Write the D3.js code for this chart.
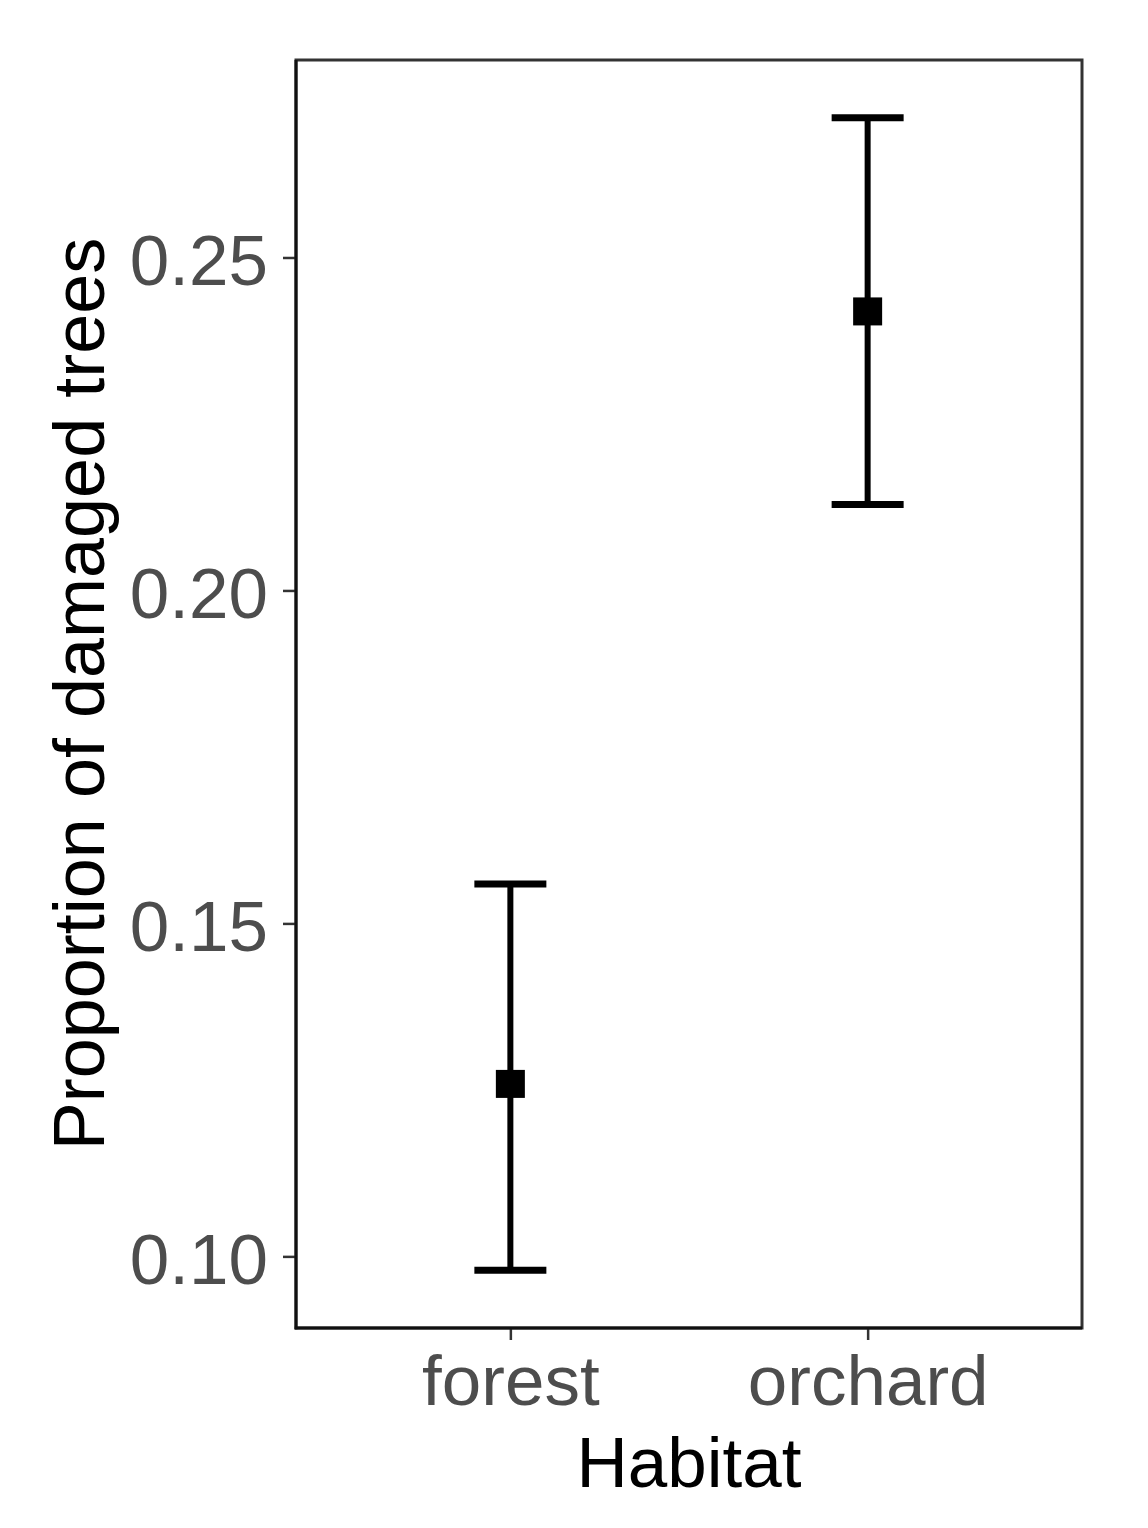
<!DOCTYPE html>
<html>
<head>
<meta charset="utf-8">
<script src="https://cdn.jsdelivr.net/npm/d3@7"></script>
<style>
  html, body { margin: 0; padding: 0; background: #fff; }
  svg { display: block; font-family: "Liberation Sans", Arial, sans-serif; }
</style>
</head>
<body>
<svg id="chart" width="1148" height="1528"></svg>
<script>
// Data
const categories = ["forest", "orchard"];
const means = [0.1259, 0.2419];
const lowers = [0.0979, 0.2129];
const uppers = [0.1559, 0.2710];
const yTicks = [0.10, 0.15, 0.20, 0.25];
const yTickLabels = ["0.10", "0.15", "0.20", "0.25"];
const xTitle = "Habitat";
const yTitle = "Proportion of damaged trees";

const svg = d3.select("#chart");
const panel = { left: 296, right: 1082, top: 60, bottom: 1328 };

const dataMin = d3.min(lowers), dataMax = d3.max(uppers);
const pad = (dataMax - dataMin) * 0.05;

const x = d3.scalePoint().domain(categories).range([panel.left, panel.right]).padding(0.6);
const y = d3.scaleLinear().domain([dataMin - pad, dataMax + pad]).range([panel.bottom, panel.top]);

const fontSize = 71;

// Y axis
const yAxis = d3.axisLeft(y).tickValues(yTicks).tickFormat((d, i) => yTickLabels[i]).tickSize(13).tickPadding(15);
const gy = svg.append("g").attr("transform", `translate(${panel.left},0)`).call(yAxis);
gy.select(".domain").remove();
gy.selectAll(".tick line").attr("stroke", "#333").attr("stroke-width", 2.5);
gy.selectAll(".tick text").attr("fill", "#4D4D4D").attr("font-size", fontSize)
  .attr("font-family", "Liberation Sans, Arial, sans-serif").attr("dy", null)
  .attr("dominant-baseline", "alphabetic").attr("y", 27);

// X axis
const xAxis = d3.axisBottom(x).tickSize(12).tickPadding(14);
const gx = svg.append("g").attr("transform", `translate(0,${panel.bottom})`).call(xAxis);
gx.select(".domain").remove();
gx.selectAll(".tick line").attr("stroke", "#333").attr("stroke-width", 2.5);
gx.selectAll(".tick text").attr("fill", "#4D4D4D").attr("font-size", fontSize)
  .attr("font-family", "Liberation Sans, Arial, sans-serif").attr("dy", null)
  .attr("y", 77);

// Panel border
svg.append("rect")
  .attr("x", panel.left).attr("y", panel.top)
  .attr("width", panel.right - panel.left).attr("height", panel.bottom - panel.top)
  .attr("fill", "none").attr("stroke", "#333").attr("stroke-width", 3);
svg.append("line").attr("x1", panel.left).attr("x2", panel.left).attr("y1", panel.top).attr("y2", panel.bottom + 1.25)
  .attr("stroke", "#111").attr("stroke-width", 3);
svg.append("line").attr("x1", panel.left - 1.25).attr("x2", panel.right).attr("y1", panel.bottom).attr("y2", panel.bottom)
  .attr("stroke", "#111").attr("stroke-width", 3);

// Error bars
const capW = 72;
const g = svg.append("g");
categories.forEach((c, i) => {
  const cx = x(c);
  g.append("line").attr("x1", cx).attr("x2", cx).attr("y1", y(uppers[i])).attr("y2", y(lowers[i]))
    .attr("stroke", "#000").attr("stroke-width", 6);
  [uppers[i], lowers[i]].forEach(v => {
    g.append("line").attr("x1", cx - capW / 2).attr("x2", cx + capW / 2).attr("y1", y(v)).attr("y2", y(v))
      .attr("stroke", "#000").attr("stroke-width", 7);
  });
  g.append("rect").attr("x", cx - 14.5).attr("y", y(means[i]) - 14).attr("width", 29).attr("height", 28).attr("fill", "#000");
});

// Titles
svg.append("text").attr("x", (panel.left + panel.right) / 2).attr("y", 1487)
  .attr("text-anchor", "middle").attr("font-size", fontSize).attr("fill", "#000").text(xTitle);
svg.append("text").attr("transform", `translate(104,${(panel.top + panel.bottom) / 2}) rotate(-90)`)
  .attr("text-anchor", "middle").attr("font-size", 72).attr("fill", "#000").text(yTitle);
</script>
</body>
</html>
